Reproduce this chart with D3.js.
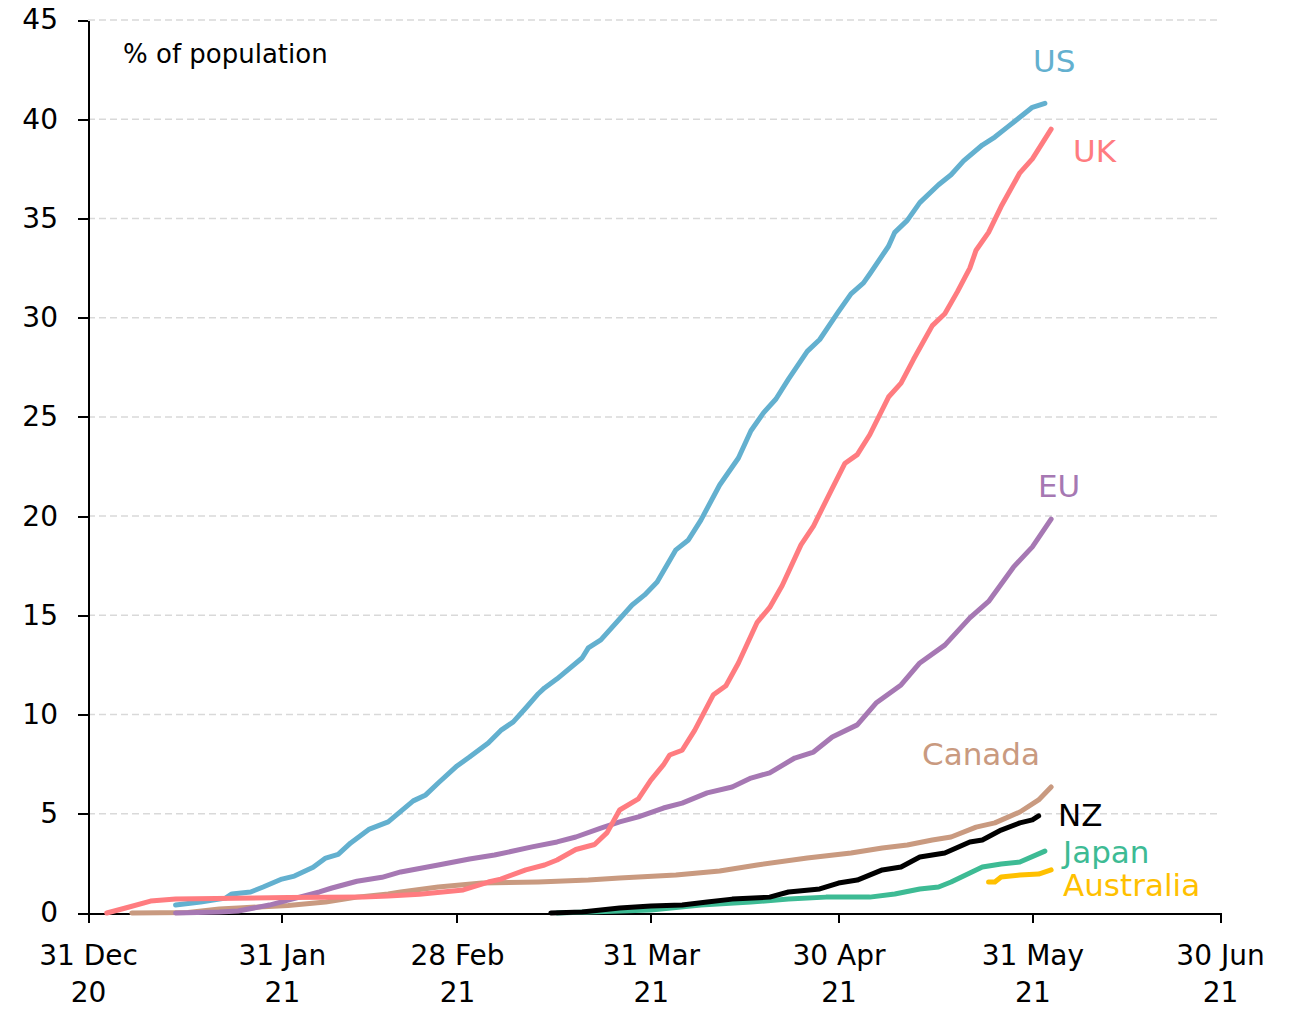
<!DOCTYPE html>
<html>
<head>
    <title>Vaccination - % of population</title>
    <meta charset="utf-8">
    <style type="text/css">
        body { margin: 0; background: #fff; }
        svg text { font-family: "DejaVu Sans", sans-serif; }
        .axis path, .axis line {
            fill: none;
            stroke: #000;
            stroke-width: 2px;
            shape-rendering: crispEdges;
        }
        .axis text { font-size: 28px; fill: #000; }
        .grid line {
            stroke: #d9d9d9;
            stroke-width: 1.5px;
            stroke-dasharray: 7 4;
        }
        .series { fill: none; stroke-width: 5px; stroke-linejoin: round; stroke-linecap: round; }
        .lbl { font-size: 31px; }
    </style>
</head>
<body>
<svg width="1298" height="1012"></svg>

<script src="https://cdnjs.cloudflare.com/ajax/libs/d3/7.8.5/d3.min.js"></script>
<script type="text/javascript">
    /*=========DATA=========*/
    var yTicks = [0, 5, 10, 15, 20, 25, 30, 35, 40, 45];
    var xTickDates = ["2020-12-31", "2021-01-31", "2021-02-28", "2021-03-31", "2021-04-30", "2021-05-31", "2021-06-30"];
    var xTickLabels = [["31 Dec", "20"], ["31 Jan", "21"], ["28 Feb", "21"], ["31 Mar", "21"], ["30 Apr", "21"], ["31 May", "21"], ["30 Jun", "21"]];

    var usDates = ["2021-01-14", "2021-01-18", "2021-01-22", "2021-01-23", "2021-01-26", "2021-01-28", "2021-01-31",
        "2021-02-02", "2021-02-05", "2021-02-07", "2021-02-09", "2021-02-11", "2021-02-14", "2021-02-17", "2021-02-21",
        "2021-02-23", "2021-02-25", "2021-02-28", "2021-03-02", "2021-03-05", "2021-03-07", "2021-03-09", "2021-03-11",
        "2021-03-13", "2021-03-14", "2021-03-16", "2021-03-20", "2021-03-21", "2021-03-23", "2021-03-28", "2021-03-30",
        "2021-04-01", "2021-04-04", "2021-04-06", "2021-04-08", "2021-04-11", "2021-04-14", "2021-04-16", "2021-04-18",
        "2021-04-20", "2021-04-22", "2021-04-25", "2021-04-27", "2021-04-30", "2021-05-02", "2021-05-04",
        "2021-05-05", "2021-05-08", "2021-05-09", "2021-05-11", "2021-05-13", "2021-05-16", "2021-05-18", "2021-05-20",
        "2021-05-23", "2021-05-25", "2021-05-27", "2021-05-29", "2021-05-31", "2021-06-02"];
    var usPct = [0.4, 0.55, 0.75, 0.96, 1.06, 1.31, 1.71,
        1.86, 2.3, 2.77, 2.95, 3.53, 4.23, 4.59, 5.65,
        5.95, 6.55, 7.41, 7.86, 8.57, 9.2, 9.63, 10.33,
        11.05, 11.34, 11.8, 12.85, 13.36, 13.76, 15.52, 16.03,
        16.68, 18.3, 18.8, 19.8, 21.57, 22.93, 24.3, 25.2,
        25.9, 26.9, 28.3, 28.9, 30.3, 31.2, 31.75,
        32.2, 33.6, 34.3, 34.9, 35.8, 36.7, 37.2, 37.9,
        38.7, 39.1, 39.6, 40.1, 40.6, 40.8];

    var ukDates = ["2021-01-03", "2021-01-06", "2021-01-10", "2021-01-14", "2021-02-01", "2021-02-13", "2021-02-17",
        "2021-02-22", "2021-03-01", "2021-03-05", "2021-03-07", "2021-03-11", "2021-03-14", "2021-03-16", "2021-03-19",
        "2021-03-22", "2021-03-24", "2021-03-26", "2021-03-29", "2021-03-31", "2021-04-02", "2021-04-03", "2021-04-05",
        "2021-04-07", "2021-04-10", "2021-04-12", "2021-04-14", "2021-04-17", "2021-04-19", "2021-04-21", "2021-04-24",
        "2021-04-26", "2021-04-29", "2021-05-01", "2021-05-03", "2021-05-05", "2021-05-08", "2021-05-10", "2021-05-12",
        "2021-05-15", "2021-05-17", "2021-05-19", "2021-05-21", "2021-05-22", "2021-05-24", "2021-05-26", "2021-05-29",
        "2021-05-31", "2021-06-03"];
    var ukPct = [0, 0.25, 0.6, 0.7, 0.78, 0.8, 0.86,
        0.95, 1.16, 1.56, 1.71, 2.17, 2.42, 2.67, 3.2,
        3.45, 4.05, 5.19, 5.75, 6.7, 7.46, 7.96, 8.2,
        9.2, 11.0, 11.45, 12.6, 14.65, 15.4, 16.5, 18.55,
        19.5, 21.4, 22.65, 23.1, 24.1, 26.0, 26.7, 27.9,
        29.6, 30.2, 31.3, 32.5, 33.4, 34.3, 35.6, 37.3,
        38.0, 39.5];

    var euDates = ["2021-01-14", "2021-01-21", "2021-01-24", "2021-01-29", "2021-02-01", "2021-02-06", "2021-02-08",
        "2021-02-12", "2021-02-16", "2021-02-19", "2021-02-25", "2021-03-02", "2021-03-06", "2021-03-12", "2021-03-16",
        "2021-03-19", "2021-03-23", "2021-03-26", "2021-03-29", "2021-04-02", "2021-04-05", "2021-04-09", "2021-04-13",
        "2021-04-16", "2021-04-19", "2021-04-23", "2021-04-26", "2021-04-29", "2021-05-03", "2021-05-06", "2021-05-10",
        "2021-05-13", "2021-05-17", "2021-05-21", "2021-05-24", "2021-05-28", "2021-05-31", "2021-06-03"];
    var euPct = [0, 0.05, 0.1, 0.4, 0.65, 1.06, 1.26,
        1.6, 1.8, 2.07, 2.42, 2.72, 2.92, 3.33, 3.58,
        3.83, 4.28, 4.59, 4.84, 5.29, 5.54, 6.05, 6.35,
        6.8, 7.06, 7.81, 8.11, 8.87, 9.48, 10.58, 11.49,
        12.6, 13.5, 14.87, 15.7, 17.44, 18.45, 19.85];

    var caDates = ["2021-01-07", "2021-01-16", "2021-01-21", "2021-01-24", "2021-02-01", "2021-02-07", "2021-02-12",
        "2021-02-17", "2021-02-19", "2021-02-25", "2021-03-04", "2021-03-13", "2021-03-21", "2021-03-26", "2021-04-04",
        "2021-04-11", "2021-04-17", "2021-04-25", "2021-05-02", "2021-05-07", "2021-05-11", "2021-05-15", "2021-05-18",
        "2021-05-22", "2021-05-25", "2021-05-29", "2021-06-01", "2021-06-03"];
    var caPct = [0, 0.03, 0.2, 0.25, 0.38, 0.55, 0.8,
        0.96, 1.06, 1.31, 1.51, 1.56, 1.66, 1.76, 1.91,
        2.12, 2.42, 2.77, 3.02, 3.28, 3.43, 3.68, 3.83,
        4.33, 4.54, 5.09, 5.7, 6.35];

    var nzDates = ["2021-03-15", "2021-03-20", "2021-03-26", "2021-03-31", "2021-04-05", "2021-04-09", "2021-04-13",
        "2021-04-19", "2021-04-22", "2021-04-27", "2021-04-30", "2021-05-03", "2021-05-07", "2021-05-10", "2021-05-13",
        "2021-05-17", "2021-05-21", "2021-05-23", "2021-05-26", "2021-05-29", "2021-05-31", "2021-06-01"];
    var nzPct = [0, 0.05, 0.25, 0.35, 0.4, 0.55, 0.7,
        0.8, 1.06, 1.21, 1.51, 1.66, 2.17, 2.32, 2.82,
        3.02, 3.58, 3.68, 4.18, 4.54, 4.69, 4.89];

    var jpDates = ["2021-03-16", "2021-03-31", "2021-04-08", "2021-04-16", "2021-04-22", "2021-04-28", "2021-05-05",
        "2021-05-09", "2021-05-13", "2021-05-16", "2021-05-18", "2021-05-21", "2021-05-23", "2021-05-26", "2021-05-29",
        "2021-06-02"];
    var jpPct = [0, 0.15, 0.4, 0.55, 0.7, 0.8, 0.8,
        0.96, 1.21, 1.31, 1.56, 2.02, 2.32, 2.47, 2.57,
        3.12];

    var auDates = ["2021-05-24", "2021-05-25", "2021-05-26", "2021-05-29", "2021-06-01", "2021-06-03"];
    var auPct = [1.56, 1.56, 1.81, 1.91, 1.96, 2.17];

    var seriesNames = ["Canada", "EU", "US", "UK", "Japan", "NZ", "Australia"];

    /*===========COLOR=======*/
    var color = {
        "US": "#63b0cf",
        "UK": "#ff7c80",
        "EU": "#a678b3",
        "Canada": "#c99a80",
        "NZ": "#000000",
        "Japan": "#3dbb94",
        "Australia": "#ffc000"
    };

    /*=========computed============*/
    var parseDate = d3.timeParse("%Y-%m-%d");
    var zip = (ds, vs) => ds.map((d, i) => ({ date: parseDate(d), value: vs[i] }));
    var series = {
        "US": zip(usDates, usPct),
        "UK": zip(ukDates, ukPct),
        "EU": zip(euDates, euPct),
        "Canada": zip(caDates, caPct),
        "NZ": zip(nzDates, nzPct),
        "Japan": zip(jpDates, jpPct),
        "Australia": zip(auDates, auPct)
    };

    var margin = { top: 20, right: 78, bottom: 99, left: 88 };
    var svgWidth = 1298, svgHeight = 1012;
    var width = svgWidth - margin.left - margin.right;
    var height = svgHeight - margin.top - margin.bottom;

    var xScale = d3.scaleTime()
        .domain([parseDate(xTickDates[0]), parseDate(xTickDates[xTickDates.length - 1])])
        .range([0, width]);
    var yScale = d3.scaleLinear().domain([0, 45]).range([height, 0]);

    var svg = d3.select('svg');
    var focus = svg.append("g")
        .attr("transform", 'translate(' + margin.left + ',' + margin.top + ')');

    // 网格线
    focus.append("g").attr("class", "grid")
        .selectAll("line")
        .data(yTicks.filter(d => d > 0))
        .enter().append("line")
        .attr("x1", 0).attr("x2", width)
        .attr("y1", d => yScale(d)).attr("y2", d => yScale(d));

    // 坐标轴
    var yAxis = d3.axisLeft(yScale).tickValues(yTicks).tickSize(10).tickPadding(20).tickSizeOuter(0);
    focus.append("g").attr("class", "y axis").call(yAxis);

    var tickDates = xTickDates.map(parseDate);
    var xAxis = d3.axisBottom(xScale).tickValues(tickDates).tickSize(10).tickSizeOuter(0).tickFormat("");
    var xg = focus.append("g").attr("class", "x axis")
        .attr("transform", "translate(0," + height + ")")
        .call(xAxis);
    xg.selectAll(".tick").each(function (d, i) {
        var t = d3.select(this).append("text")
            .attr("text-anchor", "middle")
            .attr("fill", "#000");
        t.append("tspan").attr("x", 0).attr("y", 52).text(xTickLabels[i][0]);
        t.append("tspan").attr("x", 0).attr("y", 89).text(xTickLabels[i][1]);
    });

    // 折线
    var line = d3.line()
        .x(d => xScale(d.date))
        .y(d => yScale(d.value));

    focus.append("g").selectAll("path")
        .data(seriesNames)
        .enter().append("path")
        .attr("class", "series")
        .attr("stroke", d => color[d])
        .attr("d", d => line(series[d]));

    // 标签
    var labels = [
        { name: "US", x: 1033, y: 72 },
        { name: "UK", x: 1073, y: 162 },
        { name: "EU", x: 1038, y: 497 },
        { name: "Canada", x: 922, y: 765 },
        { name: "NZ", x: 1058, y: 826 },
        { name: "Japan", x: 1063, y: 863 },
        { name: "Australia", x: 1063, y: 896 }
    ];
    svg.append("g").selectAll("text")
        .data(labels)
        .enter().append("text")
        .attr("class", "lbl")
        .attr("x", d => d.x)
        .attr("y", d => d.y)
        .attr("fill", d => color[d.name])
        .text(d => d.name);

    svg.append("text")
        .attr("x", 123).attr("y", 63)
        .attr("font-size", 26)
        .text("% of population");
</script>
</body>
</html>
